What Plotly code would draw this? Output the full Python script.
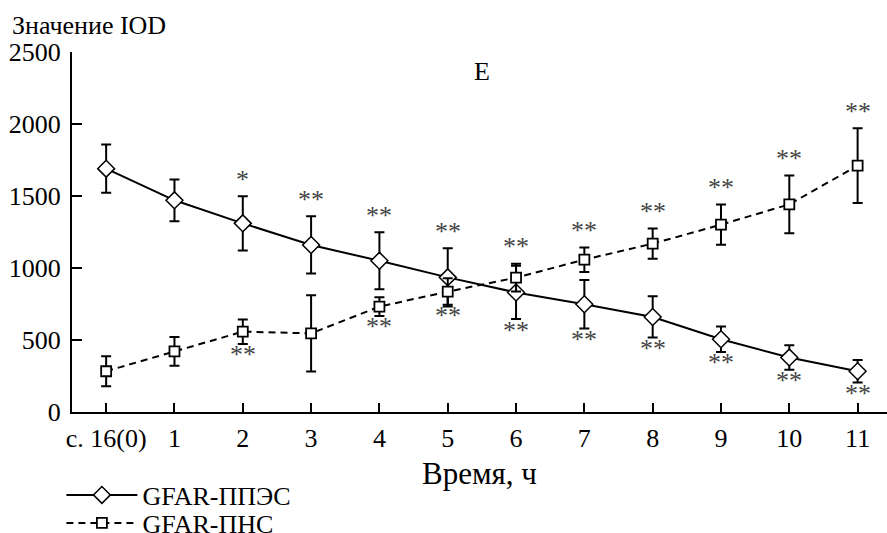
import plotly.graph_objects as go

categories = ["с. 16(0)", "1", "2", "3", "4", "5", "6", "7", "8", "9", "10", "11"]
ppes_vals = [1690, 1470, 1310, 1160, 1050, 935, 830, 748, 660, 505, 378, 283]
ppes_err = [167, 145, 188, 199, 198, 203, 185, 168, 143, 88, 85, 78]
pns_vals = [283, 421, 558, 546, 732, 836, 933, 1058, 1169, 1301, 1442, 1711]
pns_err = [105, 100, 85, 265, 65, 92, 97, 85, 105, 140, 200, 260]
ppes_sig = ["", "", "*", "**", "**", "**", "**", "**", "**", "**", "**", "**"]
ppes_side = ["", "", "up", "up", "up", "up", "down", "down", "down", "down", "down", "down"]
pns_sig = ["", "", "**", "", "**", "**", "**", "**", "**", "**", "**", "**"]
pns_side = ["", "", "down", "", "down", "down", "up", "up", "up", "up", "up", "up"]
y_ticks = [0, 500, 1000, 1500, 2000, 2500]

FONT = "Liberation Serif, Times New Roman, Tinos, serif"
FS = 26
x_idx = list(range(len(categories)))

fig = go.Figure()
fig.add_trace(go.Scatter(
    x=x_idx, y=ppes_vals, name="GFAR-ППЭС", mode="lines+markers", legend="legend",
    line=dict(color="black", width=2),
    marker=dict(symbol="diamond", size=13, color="white", line=dict(color="black", width=1.5)),
    error_y=dict(type="data", array=ppes_err, visible=True, color="black", thickness=2, width=5),
))
fig.add_trace(go.Scatter(
    x=x_idx, y=pns_vals, name="GFAR-ПНС", mode="lines+markers", legend="legend2",
    line=dict(color="black", width=2, dash="7px,5px"),
    marker=dict(symbol="square", size=10, color="white", line=dict(color="black", width=1.8)),
    error_y=dict(type="data", array=pns_err, visible=True, color="black", thickness=2, width=5),
))

annotations = []
for vals, errs, sigs, sides in [(ppes_vals, ppes_err, ppes_sig, ppes_side),
                                (pns_vals, pns_err, pns_sig, pns_side)]:
    for i, (v, e, s, side) in enumerate(zip(vals, errs, sigs, sides)):
        if not s:
            continue
        if side == "up":
            annotations.append(dict(x=i, y=v + e, xref="x", yref="y", text=s, showarrow=False,
                                    yanchor="middle", yshift=17, font=dict(color="#444")))
        else:
            annotations.append(dict(x=i, y=v - e, xref="x", yref="y", text=s, showarrow=False,
                                    yanchor="middle", yshift=-11, font=dict(color="#444")))

annotations.append(dict(x=-0.076, y=1.075, xref="paper", yref="paper", text="Значение IOD",
                        showarrow=False, xanchor="left", yanchor="middle"))
annotations.append(dict(x=0.5027, y=0.946, xref="paper", yref="paper", text="E",
                        showarrow=False, xanchor="center", yanchor="middle"))

leg_common = dict(xanchor="left", yanchor="middle", bgcolor="rgba(0,0,0,0)",
                  itemwidth=71, borderwidth=0)

fig.update_layout(
    width=887, height=533,
    margin=dict(l=72, r=0, t=52, b=121, autoexpand=False),
    paper_bgcolor="white", plot_bgcolor="white",
    font=dict(family=FONT, size=FS, color="black"),
    showlegend=True,
    legend=dict(x=-0.013, y=-(495 - 412) / 360, **leg_common),
    legend2=dict(x=-0.013, y=-(523 - 412) / 360, **leg_common),
    annotations=annotations,
    xaxis=dict(
        range=[-0.5, 11.43], tickmode="array", tickvals=x_idx, ticktext=categories,
        tickson="boundaries", ticks="inside", ticklen=9, tickwidth=2, tickcolor="black",
        showline=True, linewidth=2, linecolor="black", showgrid=False, zeroline=False,
        automargin=False, ticklabelstandoff=2,
        title=dict(text="Время, ч", standoff=10),
    ),
    yaxis=dict(
        range=[0, 2500], tickmode="array", tickvals=y_ticks,
        ticks="inside", ticklen=10, tickwidth=2, tickcolor="black",
        showline=True, linewidth=2, linecolor="black", showgrid=False, zeroline=False,
        automargin=False, ticklabelstandoff=4,
    ),
)

post = ("document.body.style.margin='0';"
        "var gd = document.getElementById('{plot_id}');"
        "function rr(){ Plotly.newPlot(gd, gd.data, gd.layout, {displayModeBar: false}); }"
        "if (document.fonts && document.fonts.ready) { document.fonts.ready.then(rr); }")

fig.write_html("out.html", config={"displayModeBar": False}, post_script=post)
